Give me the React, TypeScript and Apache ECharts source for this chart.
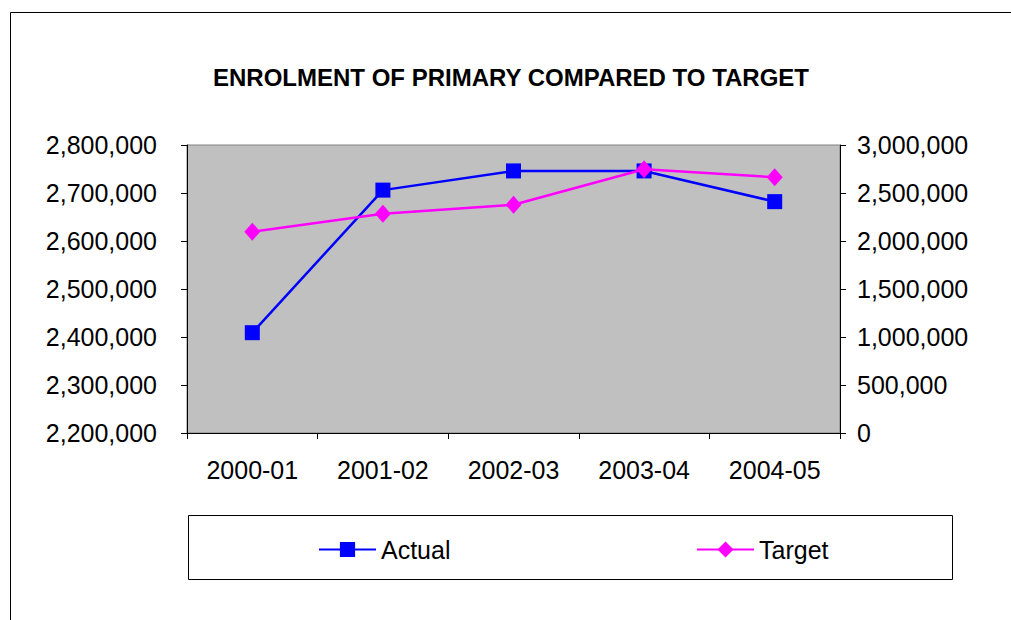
import React, { useEffect, useRef } from "react";
import * as echarts from "echarts";

const categories = ["2000-01", "2001-02", "2002-03", "2003-04", "2004-05"];
const actualValues = [2409000, 2706000, 2746000, 2746000, 2682000];
const targetValues = [2097000, 2284000, 2378000, 2747000, 2664000];
const leftTicks = { min: 2200000, max: 2800000, interval: 100000 };
const rightTicks = { min: 0, max: 3000000, interval: 500000 };

const FONT = "'Liberation Sans', Arial, sans-serif";
const fmt = (v: number) => Math.round(v).toLocaleString("en-US");

export default function App() {
  const ref = useRef<HTMLDivElement>(null);
  useEffect(() => {
    document.body.style.margin = "0";
    const chart = echarts.init(ref.current!, undefined, { renderer: "svg" });
    const legendText = { fontFamily: FONT, fontSize: 25, color: "#000", padding: [0, 0, 0, 0] };
    chart.setOption({
      animation: false,
      backgroundColor: "#ffffff",
      textStyle: { fontFamily: FONT },
      title: {
        text: "ENROLMENT OF PRIMARY COMPARED TO TARGET",
        left: 506,
        top: 60,
        textAlign: "center",
        textStyle: { fontFamily: FONT, fontSize: 24, fontWeight: "bold", color: "#000" },
      },
      graphic: [
        {
          type: "rect",
          shape: { x: 10.5, y: 12.5, width: 1020, height: 640 },
          style: { fill: "none", stroke: "#000", lineWidth: 1 },
          z: -1,
        },
        {
          type: "rect",
          shape: { x: 188.5, y: 515.5, width: 764, height: 64 },
          style: { fill: "#fff", stroke: "#000", lineWidth: 1 },
          z: 0,
        },
      ],
      grid: {
        left: 187,
        top: 145,
        width: 653,
        height: 288,
        show: true,
        backgroundColor: "#C0C0C0",
        borderColor: "#808080",
        borderWidth: 1,
      },
      legend: [
        {
          data: ["Actual"],
          left: 313,
          top: 532,
          itemWidth: 57,
          itemHeight: 19,
          textStyle: legendText,
          z: 5,
        },
        {
          data: ["Target"],
          left: 691,
          top: 532,
          itemWidth: 57,
          itemHeight: 20,
          textStyle: legendText,
          z: 5,
        },
      ],
      xAxis: {
        type: "category",
        data: categories,
        boundaryGap: true,
        axisLine: { show: true, lineStyle: { color: "#000", width: 1 } },
        axisTick: { show: true, length: 6, lineStyle: { color: "#000" } },
        axisLabel: { fontFamily: FONT, fontSize: 25, color: "#000", margin: 24 },
        splitLine: { show: false },
      },
      yAxis: [
        {
          type: "value",
          position: "left",
          ...leftTicks,
          axisLine: { show: true, lineStyle: { color: "#000", width: 1 } },
          axisTick: { show: true, length: 6, lineStyle: { color: "#000" } },
          axisLabel: { fontFamily: FONT, fontSize: 25, color: "#000", margin: 30, formatter: fmt },
          splitLine: { show: false },
        },
        {
          type: "value",
          position: "right",
          ...rightTicks,
          axisLine: { show: true, lineStyle: { color: "#000", width: 1 } },
          axisTick: { show: true, length: 6, lineStyle: { color: "#000" } },
          axisLabel: { fontFamily: FONT, fontSize: 25, color: "#000", margin: 17, formatter: fmt },
          splitLine: { show: false },
        },
      ],
      series: [
        {
          name: "Actual",
          type: "line",
          yAxisIndex: 0,
          data: actualValues,
          symbol: "rect",
          symbolSize: 15,
          lineStyle: { color: "#0000FF", width: 2.5 },
          itemStyle: { color: "#0000FF" },
          z: 3,
        },
        {
          name: "Target",
          type: "line",
          yAxisIndex: 1,
          data: targetValues,
          symbol: "diamond",
          symbolSize: [16, 18],
          lineStyle: { color: "#FF00FF", width: 2.5 },
          itemStyle: { color: "#FF00FF" },
          z: 4,
        },
      ],
    });
    return () => chart.dispose();
  }, []);
  return (
    <div
      ref={ref}
      style={{ position: "absolute", left: 0, top: 0, width: 1011, height: 620 }}
    />
  );
}
